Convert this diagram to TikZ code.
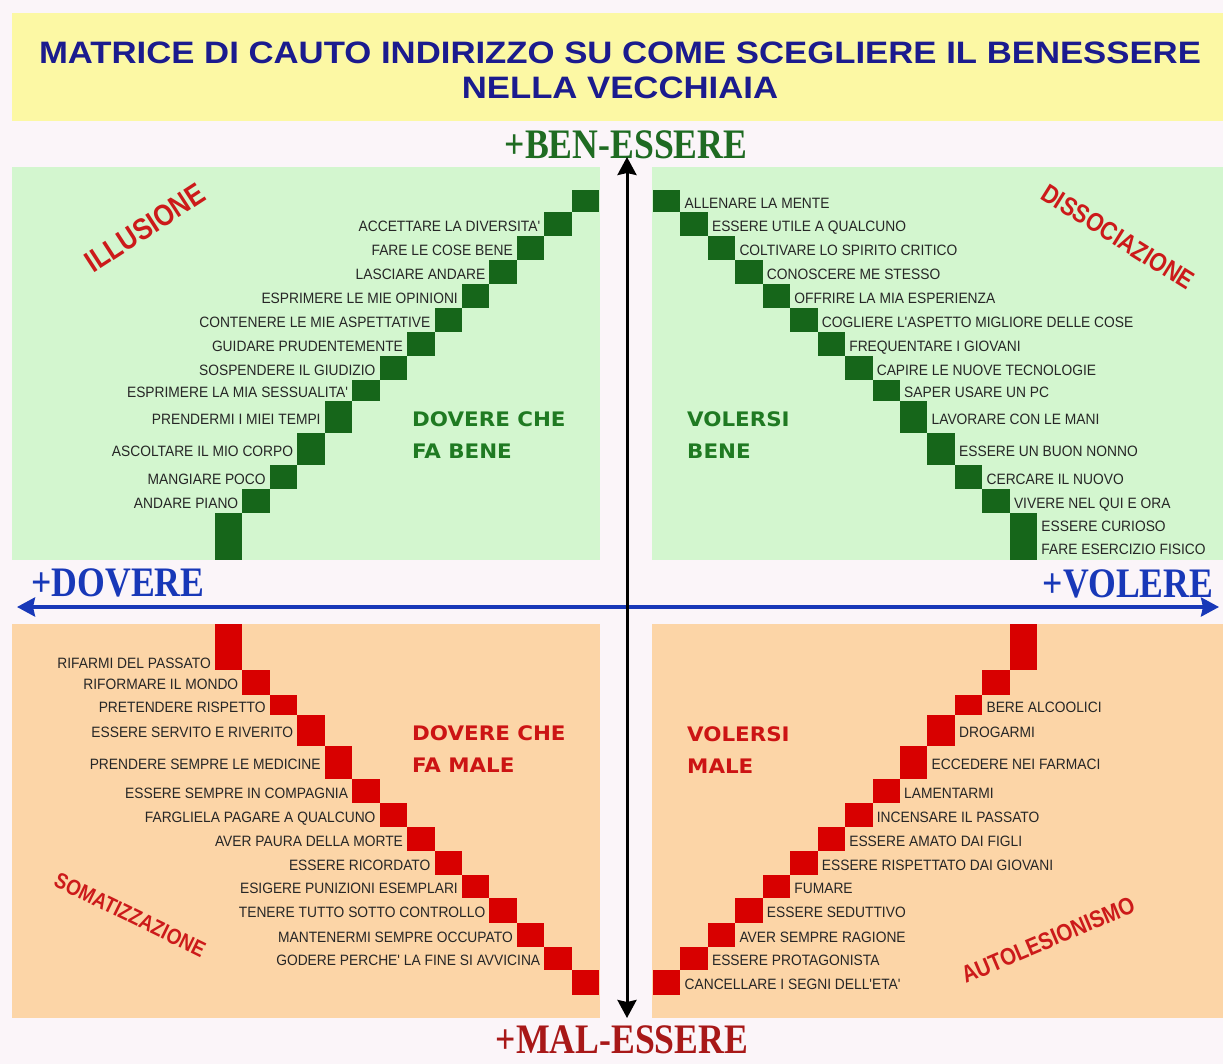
\documentclass[tikz,border=0pt]{standalone}
\usepackage{fontspec}
\setmainfont{Liberation Sans}
\newfontfamily\titlefont[FakeStretch=1.12]{Liberation Sans}
\newfontfamily\itemfont[FakeStretch=0.92]{Liberation Sans}
\newfontfamily\quadfont[FakeStretch=1.07]{DejaVu Sans}
\newfontfamily\axisfont[FakeStretch=0.85]{Liberation Serif}
\newfontfamily\cornerfont[FakeStretch=0.85]{Liberation Sans}
\usetikzlibrary{positioning,arrows.meta}
\definecolor{pagebg}{HTML}{FBF5F9}
\definecolor{bandyellow}{HTML}{FCF8A4}
\definecolor{panelgreen}{HTML}{D3F6CF}
\definecolor{panelorange}{HTML}{FCD5A7}
\definecolor{stepgreen}{HTML}{16661A}
\definecolor{stepred}{HTML}{D80000}
\definecolor{itemgray}{HTML}{262626}
\definecolor{quadgreen}{HTML}{1F7A22}
\definecolor{quadred}{HTML}{CC1414}
\definecolor{cornerred}{HTML}{CC1A1A}
\definecolor{titleblue}{HTML}{1B1B8E}
\definecolor{axisblue}{HTML}{1838B8}
\definecolor{bengreen}{HTML}{1F6B22}
\definecolor{malred}{HTML}{A81818}
\def\toprows{0/190/212,1/212/236,2/236/260,3/260/284,4/284/308,5/308/332,6/332/356,7/356/380,8/380/401,9/401/433,10/433/465,11/465/489,12/489/513,13/513/560}
\def\botrows{0/624/670,1/670/695,2/695/715,3/715/746,4/746/779,5/779/803,6/803/827,7/827/851,8/851/875,9/875/898,10/898/923,11/923/947,12/947/970,13/970/995}
\begin{document}
\begin{tikzpicture}[x=1pt,y=-1pt,
    sq/.style={inner sep=0pt,outer sep=0pt,minimum width=27.45pt},
    gsq/.style={sq,fill=stepgreen},
    rsq/.style={sq,fill=stepred},
    item/.style={font=\itemfont\fontsize{15}{15}\selectfont,text=itemgray,inner sep=0pt,text height=10.5pt,text depth=0pt,yshift=-2pt},
    quad/.style={font=\quadfont\bfseries\fontsize{20}{32}\selectfont,align=left,anchor=west,inner sep=0pt},
    corner/.style={text=cornerred,inner sep=0pt},
    axislabel/.style={font=\axisfont\bfseries\fontsize{42}{42}\selectfont,inner sep=0pt},
    axisline/.style={line width=3pt,{Stealth[length=18pt,width=19pt,inset=2pt]}-{Stealth[length=18pt,width=19pt,inset=2pt]}}]
  \fill[pagebg] (0,0) rectangle (1223,1064);
  \useasboundingbox (0,0) rectangle (1223,1064);
  \fill[bandyellow] (12,13) rectangle (1223,121);
  \fill[panelgreen] (12,167) rectangle (600,560);
  \fill[panelgreen] (652,167) rectangle (1223,560);
  \fill[panelorange] (12,624) rectangle (600,1018);
  \fill[panelorange] (652,624) rectangle (1223,1018);
  \node[font=\titlefont\bfseries\fontsize{31}{35}\selectfont,text=titleblue,align=center] (title) at (620,70)
    {MATRICE DI CAUTO INDIRIZZO SU COME SCEGLIERE IL BENESSERE\\NELLA VECCHIAIA};
  \foreach \t/\a/\b in \toprows {
    \pgfmathsetmacro\h{\b-\a}
    \node[gsq,minimum height=\h pt] (tl\t) at ({228.7+27.45*(13-\t)},{(\a+\b)/2}) {};
    \node[gsq,minimum height=\h pt] (tr\t) at ({666.7+27.45*\t},{(\a+\b)/2}) {};
  }
  \foreach \r/\a/\b in \botrows {
    \pgfmathsetmacro\h{\b-\a}
    \node[rsq,minimum height=\h pt] (bl\r) at ({228.7+27.45*\r},{(\a+\b)/2}) {};
    \node[rsq,minimum height=\h pt] (br\r) at ({666.7+27.45*(13-\r)},{(\a+\b)/2}) {};
  }
  \foreach \t/\txt in {1/{ACCETTARE LA DIVERSITA'},2/{FARE LE COSE BENE},3/{LASCIARE ANDARE},
      4/{ESPRIMERE LE MIE OPINIONI},5/{CONTENERE LE MIE ASPETTATIVE},6/{GUIDARE PRUDENTEMENTE},
      7/{SOSPENDERE IL GIUDIZIO},8/{ESPRIMERE LA MIA SESSUALITA'},9/{PRENDERMI I MIEI TEMPI},
      10/{ASCOLTARE IL MIO CORPO},11/{MANGIARE POCO},12/{ANDARE PIANO}}
    \node[item,left=4pt of tl\t] (tlt\t) {\txt};
  \foreach \t/\txt in {0/{ALLENARE LA MENTE},1/{ESSERE UTILE A QUALCUNO},2/{COLTIVARE LO SPIRITO CRITICO},
      3/{CONOSCERE ME STESSO},4/{OFFRIRE LA MIA ESPERIENZA},5/{COGLIERE L'ASPETTO MIGLIORE DELLE COSE},
      6/{FREQUENTARE I GIOVANI},7/{CAPIRE LE NUOVE TECNOLOGIE},8/{SAPER USARE UN PC},
      9/{LAVORARE CON LE MANI},10/{ESSERE UN BUON NONNO},11/{CERCARE IL NUOVO},12/{VIVERE NEL QUI E ORA}}
    \node[item,right=4pt of tr\t] (trt\t) {\txt};
  \node[item,anchor=west] (trt13a) at ([xshift=4pt,yshift=12.5pt]tr13.east) {ESSERE CURIOSO};
  \node[item,anchor=west] (trt13b) at ([xshift=4pt,yshift=-10.5pt]tr13.east) {FARE ESERCIZIO FISICO};
  \node[item,anchor=east] (blt0) at ([xshift=-4pt,yshift=-14pt]bl0.west) {RIFARMI DEL PASSATO};
  \foreach \r/\txt in {1/{RIFORMARE IL MONDO},2/{PRETENDERE RISPETTO},3/{ESSERE SERVITO E RIVERITO},
      4/{PRENDERE SEMPRE LE MEDICINE},5/{ESSERE SEMPRE IN COMPAGNIA},6/{FARGLIELA PAGARE A QUALCUNO},
      7/{AVER PAURA DELLA MORTE},8/{ESSERE RICORDATO},9/{ESIGERE PUNIZIONI ESEMPLARI},
      10/{TENERE TUTTO SOTTO CONTROLLO},11/{MANTENERMI SEMPRE OCCUPATO},12/{GODERE PERCHE' LA FINE SI AVVICINA}}
    \node[item,left=4pt of bl\r] (blt\r) {\txt};
  \foreach \r/\txt in {2/{BERE ALCOOLICI},3/{DROGARMI},4/{ECCEDERE NEI FARMACI},5/{LAMENTARMI},
      6/{INCENSARE IL PASSATO},7/{ESSERE AMATO DAI FIGLI},8/{ESSERE RISPETTATO DAI GIOVANI},9/{FUMARE},
      10/{ESSERE SEDUTTIVO},11/{AVER SEMPRE RAGIONE},12/{ESSERE PROTAGONISTA},13/{CANCELLARE I SEGNI DELL'ETA'}}
    \node[item,right=4pt of br\r] (brt\r) {\txt};
  \node[quad,text=quadgreen] (dfb) at (412,435) {DOVERE CHE\\FA BENE};
  \node[quad,text=quadgreen] (vb) at (687,435) {VOLERSI\\BENE};
  \node[quad,text=quadred] (dfm) at (412,749) {DOVERE CHE\\FA MALE};
  \node[quad,text=quadred] (vm) at (687,750) {VOLERSI\\MALE};
  \node[corner,rotate=33,font=\cornerfont\bfseries\fontsize{30}{30}\selectfont] (illu) at (145,228) {ILLUSIONE};
  \node[corner,rotate=-32,font=\cornerfont\bfseries\fontsize{26}{26}\selectfont] (disso) at (1118,237) {DISSOCIAZIONE};
  \node[corner,rotate=-26,font=\cornerfont\bfseries\fontsize{22}{22}\selectfont] (soma) at (130,915) {SOMATIZZAZIONE};
  \node[corner,rotate=23,font=\cornerfont\bfseries\fontsize{24}{24}\selectfont] (auto) at (1048,940) {AUTOLESIONISMO};
  \node[axislabel,text=bengreen] (ben) at (626,145) {+BEN-ESSERE};
  \node[axislabel,text=malred] (mal) at (622,1040) {+MAL-ESSERE};
  \node[axislabel,text=axisblue] (dov) at (118,583) {+DOVERE};
  \node[axislabel,text=axisblue] (vol) at (1128,584) {+VOLERE};
  \coordinate (ytop) at (627,157);
  \coordinate (ybot) at (627,1018);
  \coordinate (xleft) at (17,607);
  \coordinate (xright) at (1219,607);
  \draw[axisline,axisblue,line width=3.5pt] (xleft) -- (xright);
  \draw[axisline,black] (ybot) -- (ytop);
\end{tikzpicture}
\end{document}
